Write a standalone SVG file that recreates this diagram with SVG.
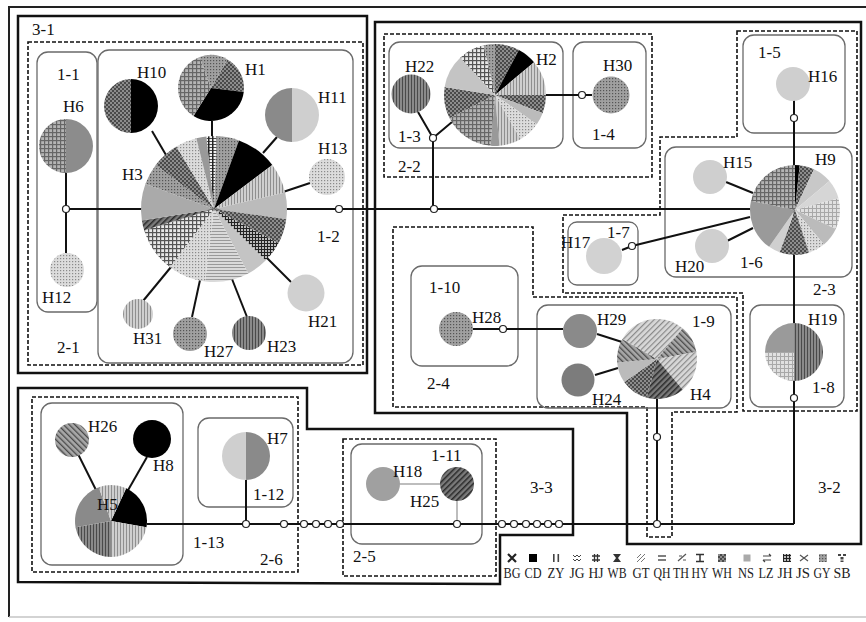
<svg xmlns="http://www.w3.org/2000/svg" width="866" height="622" viewBox="0 0 866 622">
<style>
.t{font-family:"Liberation Serif","Times New Roman",serif;font-size:17px;fill:#111}
.lg{font-family:"Liberation Serif","Times New Roman",serif;font-size:14px;fill:#222;text-anchor:middle}
.thick{fill:none;stroke:#111;stroke-width:2.5}
.dash{fill:none;stroke:#111;stroke-width:1.6;stroke-dasharray:4 2}
.rbox{fill:none;stroke:#6a6a6a;stroke-width:1.3}
.ln{fill:none;stroke:#111;stroke-width:2}
.lgl{fill:none;stroke:#bdbdbd;stroke-width:2}
.jn{fill:#fff;stroke:#222;stroke-width:1.2}
</style>
<defs>
<pattern id="pDots" width="3" height="3" patternUnits="userSpaceOnUse"><rect width="3" height="3" fill="#a0a0a0"/><rect width="1.2" height="1.2" fill="#555"/></pattern>
<pattern id="pLDots" width="3" height="3" patternUnits="userSpaceOnUse"><rect width="3" height="3" fill="#dcdcdc"/><rect width="1.2" height="1.2" fill="#8a8a8a"/></pattern>
<pattern id="pDark" width="4" height="4" patternUnits="userSpaceOnUse"><rect width="4" height="4" fill="#4a4a4a"/><rect width="2" height="2" fill="#8c8c8c"/><rect x="2" y="2" width="2" height="2" fill="#8c8c8c"/></pattern>
<pattern id="pGrid" width="4" height="4" patternUnits="userSpaceOnUse"><rect width="4" height="4" fill="#e8e8e8"/><rect width="1.2" height="4" fill="#555"/><rect width="4" height="1.2" fill="#555"/></pattern>
<pattern id="pGridM" width="4" height="4" patternUnits="userSpaceOnUse"><rect width="4" height="4" fill="#b4b4b4"/><rect width="1.2" height="4" fill="#666"/><rect width="4" height="1.2" fill="#666"/></pattern>
<pattern id="pGridD" width="3" height="3" patternUnits="userSpaceOnUse"><rect width="3" height="3" fill="#bbb"/><rect width="1" height="3" fill="#222"/><rect width="3" height="1" fill="#222"/></pattern>
<pattern id="pGridL" width="4" height="4" patternUnits="userSpaceOnUse"><rect width="4" height="4" fill="#e0e0e0"/><rect width="1" height="4" fill="#a8a8a8"/><rect width="4" height="1" fill="#a8a8a8"/></pattern>
<pattern id="pVL" width="3" height="3" patternUnits="userSpaceOnUse"><rect width="3" height="3" fill="#cfcfcf"/><rect width="1" height="3" fill="#8f8f8f"/></pattern>
<pattern id="pVLD" width="3" height="3" patternUnits="userSpaceOnUse"><rect width="3" height="3" fill="#8a8a8a"/><rect width="1" height="3" fill="#4a4a4a"/></pattern>
<pattern id="pHL" width="3" height="3" patternUnits="userSpaceOnUse"><rect width="3" height="3" fill="#dadada"/><rect width="3" height="1" fill="#999"/></pattern>
<pattern id="pLad" width="4" height="3" patternUnits="userSpaceOnUse"><rect width="4" height="3" fill="#f2f2f2"/><rect width="1.5" height="3" fill="#222"/><rect width="4" height="0.8" fill="#222"/></pattern>
<pattern id="pDgL" width="4" height="4" patternUnits="userSpaceOnUse" patternTransform="rotate(45)"><rect width="4" height="4" fill="#d8d8d8"/><rect width="1.2" height="4" fill="#8a8a8a"/></pattern>
<pattern id="pDgM" width="4" height="4" patternUnits="userSpaceOnUse" patternTransform="rotate(-45)"><rect width="4" height="4" fill="#a8a8a8"/><rect width="1.3" height="4" fill="#4a4a4a"/></pattern>
<pattern id="pDgD" width="4" height="4" patternUnits="userSpaceOnUse" patternTransform="rotate(45)"><rect width="4" height="4" fill="#7a7a7a"/><rect width="1.5" height="4" fill="#2a2a2a"/></pattern>
</defs>

<rect width="866" height="622" fill="#fff"/>
<g id="frame">
<path d="M866,7 H9 V617" fill="none" stroke="#222" stroke-width="2"/>
<path d="M9,617 H866" fill="none" stroke="#c4c4c4" stroke-width="1.5"/>
</g>

<g id="regions">
<rect class="thick" x="18" y="16" width="349" height="357"/>
<path class="thick" d="M375,22 H861 V544 H627 V413 H375 Z"/>
<path class="thick" d="M18,388 H307 V429 H573 V535 H500 V584 L18,582 Z"/>
<rect class="dash" x="28" y="42" width="335" height="323"/>
<rect class="dash" x="384" y="34" width="268" height="143"/>
<path class="dash" d="M737,31 H857 V411 H743 V293 H563 V215 H660 V137 H737 Z"/>
<path class="dash" d="M393,227 H533 V297 H737 V412 H672 V537 H647 V407 H393 Z"/>
<rect class="dash" x="32" y="397" width="266" height="175"/>
<rect class="dash" x="343" y="439" width="153" height="137"/>
<rect class="rbox" x="37" y="52" width="60" height="260" rx="11"/>
<rect class="rbox" x="98" y="50" width="255" height="313" rx="11"/>
<rect class="rbox" x="389" y="42" width="174" height="106" rx="11"/>
<rect class="rbox" x="573" y="42" width="73" height="106" rx="11"/>
<rect class="rbox" x="743" y="35" width="102" height="98" rx="11"/>
<rect class="rbox" x="665" y="147" width="187" height="130" rx="11"/>
<rect class="rbox" x="568" y="222" width="70" height="63" rx="9"/>
<rect class="rbox" x="411" y="266" width="107" height="100" rx="11"/>
<rect class="rbox" x="537" y="305" width="194" height="103" rx="11"/>
<rect class="rbox" x="750" y="305" width="94" height="102" rx="11"/>
<rect class="rbox" x="41" y="403" width="142" height="162" rx="11"/>
<rect class="rbox" x="198" y="418" width="95" height="89" rx="11"/>
<rect class="rbox" x="351" y="444" width="131" height="100" rx="11" stroke="#9a9a9a"/>
</g>

<g id="connectors">
<path class="ln" d="M66,173 V253"/>
<path class="ln" d="M66,209 H750"/>
<path class="ln" d="M152,131 L166,155"/>
<path class="ln" d="M212,121 V140"/>
<path class="ln" d="M277,137 L263,153"/>
<path class="ln" d="M310,183 L283,192"/>
<path class="ln" d="M143,301 L171,267"/>
<path class="ln" d="M192,317 L200,280"/>
<path class="ln" d="M247,317 L232,279"/>
<path class="ln" d="M291,282 L267,258"/>
<path class="ln" d="M418,112 L433,138 L452,122"/>
<path class="ln" d="M433,138 V209"/>
<path class="ln" d="M546,95 H592"/>
<path class="ln" d="M794,100 V524"/>
<path class="ln" d="M147,524 H794"/>
<path class="ln" d="M246,480 V524"/>
<path class="ln" d="M657,399 V524"/>
<path class="ln" d="M726,182 L753,193"/>
<path class="ln" d="M727,241 L753,228"/>
<path class="ln" d="M622,250 L632,246 L750,217"/>
<path class="ln" d="M473,329 H563"/>
<path class="ln" d="M597,334 L622,342"/>
<path class="ln" d="M595,375 L618,368"/>
<path class="ln" d="M78,454 L97,492"/>
<path class="ln" d="M147,457 L127,492"/>
<path class="lgl" d="M400,484 H440"/>
<path class="lgl" d="M457,500 V524"/>
</g>

<g id="H3">
<path fill="url(#pLad)" d="M214,209 L206.37,136.40 A73,73 0 0 1 216.55,136.04 Z"/>
<path fill="url(#pDots)" d="M214,209 L216.55,136.04 A73,73 0 0 1 238.97,140.40 Z"/>
<path fill="#000" d="M214,209 L238.97,140.40 A73,73 0 0 1 272.30,165.07 Z"/>
<path fill="url(#pVL)" d="M214,209 L272.30,165.07 A73,73 0 0 1 285.13,192.57 Z"/>
<path fill="#bbb" d="M214,209 L285.13,192.57 A73,73 0 0 1 286.29,219.16 Z"/>
<path fill="url(#pDark)" d="M214,209 L286.29,219.16 A73,73 0 0 1 278.45,243.27 Z"/>
<path fill="url(#pGridD)" d="M214,209 L278.45,243.27 A73,73 0 0 1 265.62,260.62 Z"/>
<path fill="#c4c4c4" d="M214,209 L265.62,260.62 A73,73 0 0 1 248.27,273.45 Z"/>
<path fill="url(#pHL)" d="M214,209 L248.27,273.45 A73,73 0 0 1 205.10,281.45 Z"/>
<path fill="url(#pLDots)" d="M214,209 L205.10,281.45 A73,73 0 0 1 170.07,267.30 Z"/>
<path fill="url(#pGrid)" d="M214,209 L170.07,267.30 A73,73 0 0 1 144.19,230.35 Z"/>
<path fill="url(#pDgD)" d="M214,209 L144.19,230.35 A73,73 0 0 1 141.90,220.42 Z"/>
<path fill="#aaa" d="M214,209 L141.90,220.42 A73,73 0 0 1 145.40,184.03 Z"/>
<path fill="url(#pDots)" d="M214,209 L145.40,184.03 A73,73 0 0 1 155.70,165.07 Z"/>
<path fill="url(#pDark)" d="M214,209 L155.70,165.07 A73,73 0 0 1 176.40,146.42 Z"/>
<path fill="url(#pLDots)" d="M214,209 L176.40,146.42 A73,73 0 0 1 196.34,138.17 Z"/>
<path fill="#999" d="M214,209 L196.34,138.17 A73,73 0 0 1 206.37,136.40 Z"/>
</g>
<g id="H1">
<path fill="url(#pDark)" d="M211,88 L227.5,59.42 A33,33 0 0 1 243.75,92.02 Z"/>
<path fill="#000" d="M211,88 L243.75,92.02 A33,33 0 0 1 193.51,115.98 Z"/>
<path fill="url(#pGridM)" d="M211,88 L193.51,115.98 A33,33 0 0 1 199.71,56.99 Z"/>
<path fill="url(#pDots)" d="M211,88 L199.71,56.99 A33,33 0 0 1 227.5,59.42 Z"/>
</g>
<g id="H10">
<path fill="#000" d="M131,79 A27,27 0 0 1 131,133 Z"/>
<path fill="url(#pDark)" d="M131,133 A27,27 0 0 1 131,79 Z"/>
</g>
<g id="H11">
<path fill="#cfcfcf" d="M292,88 A27,27 0 0 1 292,142 Z"/>
<path fill="#8a8a8a" d="M292,142 A27,27 0 0 1 292,88 Z"/>
</g>
<g id="H13"><circle cx="327" cy="177" r="18" fill="url(#pLDots)"/></g>
<g id="H6">
<path fill="#8c8c8c" d="M66,119 A27,27 0 0 1 66,173 Z"/>
<path fill="url(#pGridM)" d="M66,173 A27,27 0 0 1 66,119 Z"/>
</g>
<g id="H12"><circle cx="67" cy="270" r="17" fill="url(#pLDots)"/></g>
<g id="H31"><circle cx="138" cy="314" r="15" fill="url(#pVL)"/></g>
<g id="H27"><circle cx="190" cy="334" r="17" fill="url(#pDots)"/></g>
<g id="H23"><circle cx="249" cy="333" r="17" fill="url(#pVLD)"/></g>
<g id="H21"><circle cx="306" cy="293" r="18.5" fill="#d0d0d0"/></g>

<g id="H2">
<path fill="url(#pDots)" d="M495,95 L483.53,45.31 A51,51 0 0 1 495,44 Z"/>
<path fill="url(#pDark)" d="M495,95 L495,44 A51,51 0 0 1 518.94,49.97 Z"/>
<path fill="#000" d="M495,95 L518.94,49.97 A51,51 0 0 1 534.07,62.22 Z"/>
<path fill="url(#pVL)" d="M495,95 L534.07,62.22 A51,51 0 0 1 546,95 Z"/>
<path fill="url(#pDark)" d="M495,95 L546,95 A51,51 0 0 1 542.61,113.28 Z"/>
<path fill="#bbb" d="M495,95 L542.61,113.28 A51,51 0 0 1 536.78,124.25 Z"/>
<path fill="url(#pLDots)" d="M495,95 L536.78,124.25 A51,51 0 0 1 520.5,139.17 Z"/>
<path fill="url(#pVL)" d="M495,95 L520.5,139.17 A51,51 0 0 1 499.45,145.81 Z"/>
<path fill="#999" d="M495,95 L499.45,145.81 A51,51 0 0 1 490.55,145.81 Z"/>
<path fill="url(#pGridM)" d="M495,95 L490.55,145.81 A51,51 0 0 1 449.56,118.15 Z"/>
<path fill="url(#pDark)" d="M495,95 L449.56,118.15 A51,51 0 0 1 444.63,87.02 Z"/>
<path fill="#c4c4c4" d="M495,95 L444.63,87.02 A51,51 0 0 1 460.22,57.70 Z"/>
<path fill="url(#pGrid)" d="M495,95 L460.22,57.70 A51,51 0 0 1 483.53,45.31 Z"/>
</g>
<g id="H22"><circle cx="411" cy="94" r="19.5" fill="url(#pVLD)"/></g>
<g id="H30"><circle cx="611" cy="95" r="18.5" fill="url(#pDots)"/></g>
<g id="H16"><circle cx="793" cy="84" r="17" fill="#cfcfcf"/></g>

<g id="H9">
<path fill="#000" d="M795,210 L795,165 A45,45 0 0 1 799.70,165.25 Z"/>
<path fill="url(#pDark)" d="M795,210 L799.70,165.25 A45,45 0 0 1 814.02,169.22 Z"/>
<path fill="#c8c8c8" d="M795,210 L814.02,169.22 A45,45 0 0 1 829.47,181.07 Z"/>
<path fill="#d6d6d6" d="M795,210 L829.47,181.07 A45,45 0 0 1 838.47,198.35 Z"/>
<path fill="url(#pGridL)" d="M795,210 L838.47,198.35 A45,45 0 0 1 835.78,229.02 Z"/>
<path fill="#bbb" d="M795,210 L835.78,229.02 A45,45 0 0 1 823.93,244.47 Z"/>
<path fill="url(#pLDots)" d="M795,210 L823.93,244.47 A45,45 0 0 1 808.91,252.80 Z"/>
<path fill="url(#pDark)" d="M795,210 L808.91,252.80 A45,45 0 0 1 779.61,252.29 Z"/>
<path fill="#cfcfcf" d="M795,210 L779.61,252.29 A45,45 0 0 1 769.19,246.86 Z"/>
<path fill="#9a9a9a" d="M795,210 L769.19,246.86 A45,45 0 0 1 750.99,200.64 Z"/>
<path fill="url(#pGridM)" d="M795,210 L750.99,200.64 A45,45 0 0 1 795,165 Z"/>
</g>
<g id="H15"><circle cx="710" cy="177" r="17" fill="#cfcfcf"/></g>
<g id="H20"><circle cx="712" cy="246" r="17" fill="#cfcfcf"/></g>
<g id="H17"><circle cx="604" cy="256" r="18" fill="#d2d2d2"/></g>
<g id="H28"><circle cx="456" cy="329" r="17" fill="url(#pDots)"/></g>
<g id="H29"><circle cx="580" cy="331" r="17" fill="#8a8a8a"/></g>
<g id="H24"><circle cx="578" cy="380" r="16.5" fill="#7c7c7c"/></g>
<g id="H4">
<path fill="url(#pDgL)" d="M657,359 L657,319 A40,40 0 0 1 682.71,328.36 Z"/>
<path fill="url(#pDgM)" d="M657,359 L682.71,328.36 A40,40 0 0 1 696.39,352.06 Z"/>
<path fill="url(#pDgL)" d="M657,359 L696.39,352.06 A40,40 0 0 1 682.71,389.64 Z"/>
<path fill="url(#pDgD)" d="M657,359 L682.71,389.64 A40,40 0 0 1 646.65,397.64 Z"/>
<path fill="url(#pDark)" d="M657,359 L646.65,397.64 A40,40 0 0 1 624.23,381.94 Z"/>
<path fill="#bbb" d="M657,359 L624.23,381.94 A40,40 0 0 1 617.15,362.49 Z"/>
<path fill="url(#pDgM)" d="M657,359 L617.15,362.49 A40,40 0 0 1 622.36,339 Z"/>
<path fill="url(#pDgL)" d="M657,359 L622.36,339 A40,40 0 0 1 657,319 Z"/>
</g>
<g id="H19">
<path fill="url(#pVLD)" d="M794,323 A29,29 0 0 1 794,381 Z"/>
<path fill="#9a9a9a" d="M794,352 L765,352 A29,29 0 0 1 794,323 Z"/>
<path fill="url(#pGridL)" d="M794,352 L794,381 A29,29 0 0 1 765,352 Z"/>
</g>

<g id="H5">
<path fill="#000" d="M111,521 L126.21,488.37 A36,36 0 0 1 146.45,527.25 Z"/>
<path fill="url(#pVL)" d="M111,521 L146.45,527.25 A36,36 0 0 1 111,557 Z"/>
<path fill="url(#pVLD)" d="M111,521 L111,557 A36,36 0 0 1 75.55,527.25 Z"/>
<path fill="#8a8a8a" d="M111,521 L75.55,527.25 A36,36 0 0 1 98.69,487.17 Z"/>
<path fill="url(#pVL)" d="M111,521 L98.69,487.17 A36,36 0 0 1 126.21,488.37 Z"/>
</g>
<g id="H26"><circle cx="72" cy="440" r="17" fill="url(#pDgM)"/></g>
<g id="H8"><circle cx="152" cy="439" r="19" fill="#000"/></g>
<g id="H7">
<path fill="#8a8a8a" d="M246,432 A24,24 0 0 1 246,480 Z"/>
<path fill="#cfcfcf" d="M246,480 A24,24 0 0 1 246,432 Z"/>
</g>
<g id="H18"><circle cx="383" cy="484" r="17" fill="#a0a0a0"/></g>
<g id="H25"><circle cx="457" cy="484" r="17" fill="url(#pDgD)"/></g>

<g id="junctions">
<circle class="jn" cx="66" cy="209" r="3.5"/>
<circle class="jn" cx="339" cy="209" r="3.5"/>
<circle class="jn" cx="434" cy="209" r="3.5"/>
<circle class="jn" cx="433" cy="138" r="3.5"/>
<circle class="jn" cx="582" cy="95" r="3.5"/>
<circle class="jn" cx="794" cy="118" r="3.5"/>
<circle class="jn" cx="632" cy="246" r="3.5"/>
<circle class="jn" cx="503" cy="329" r="3.5"/>
<circle class="jn" cx="657" cy="437" r="3.5"/>
<circle class="jn" cx="794" cy="398" r="3.5"/>
<circle class="jn" cx="657" cy="524" r="3.5"/>
<circle class="jn" cx="246" cy="524" r="3.5"/>
<circle class="jn" cx="284" cy="524" r="3.5"/>
<circle class="jn" cx="304" cy="524" r="3.5"/>
<circle class="jn" cx="316" cy="524" r="3.5"/>
<circle class="jn" cx="328" cy="524" r="3.5"/>
<circle class="jn" cx="340" cy="524" r="3.5"/>
<circle class="jn" cx="457" cy="524" r="3.5"/>
<circle class="jn" cx="502" cy="524" r="3.5"/>
<circle class="jn" cx="514" cy="524" r="3.5"/>
<circle class="jn" cx="526" cy="524" r="3.5"/>
<circle class="jn" cx="537" cy="524" r="3.5"/>
<circle class="jn" cx="548" cy="524" r="3.5"/>
<circle class="jn" cx="559" cy="524" r="3.5"/>
</g>

<g id="labels">
<text class="t" x="32" y="35">3-1</text>
<text class="t" x="57" y="80">1-1</text>
<text class="t" x="63" y="112">H6</text>
<text class="t" x="137" y="78">H10</text>
<text class="t" x="245" y="75">H1</text>
<text class="t" x="318" y="103">H11</text>
<text class="t" x="318" y="154">H13</text>
<text class="t" x="122" y="180">H3</text>
<text class="t" x="317" y="242">1-2</text>
<text class="t" x="42" y="303">H12</text>
<text class="t" x="308" y="327">H21</text>
<text class="t" x="133" y="344">H31</text>
<text class="t" x="204" y="357">H27</text>
<text class="t" x="267" y="352">H23</text>
<text class="t" x="57" y="353">2-1</text>
<text class="t" x="405" y="72">H22</text>
<text class="t" x="536" y="65">H2</text>
<text class="t" x="603" y="71">H30</text>
<text class="t" x="398" y="142">1-3</text>
<text class="t" x="592" y="140">1-4</text>
<text class="t" x="398" y="172">2-2</text>
<text class="t" x="758" y="58">1-5</text>
<text class="t" x="808" y="82">H16</text>
<text class="t" x="723" y="168">H15</text>
<text class="t" x="815" y="165">H9</text>
<text class="t" x="675" y="272">H20</text>
<text class="t" x="740" y="268">1-6</text>
<text class="t" x="813" y="295">2-3</text>
<text class="t" x="561" y="248">H17</text>
<text class="t" x="607" y="238">1-7</text>
<text class="t" x="429" y="293">1-10</text>
<text class="t" x="472" y="323">H28</text>
<text class="t" x="427" y="389">2-4</text>
<text class="t" x="597" y="325">H29</text>
<text class="t" x="592" y="405">H24</text>
<text class="t" x="692" y="327">1-9</text>
<text class="t" x="690" y="400">H4</text>
<text class="t" x="808" y="325">H19</text>
<text class="t" x="812" y="393">1-8</text>
<text class="t" x="818" y="493">3-2</text>
<text class="t" x="88" y="432">H26</text>
<text class="t" x="153" y="471">H8</text>
<text class="t" x="97" y="510">H5</text>
<text class="t" x="193" y="548">1-13</text>
<text class="t" x="260" y="565">2-6</text>
<text class="t" x="267" y="444">H7</text>
<text class="t" x="253" y="500">1-12</text>
<text class="t" x="431" y="461">1-11</text>
<text class="t" x="393" y="477">H18</text>
<text class="t" x="410" y="507">H25</text>
<text class="t" x="353" y="562">2-5</text>
<text class="t" x="530" y="493">3-3</text>
</g>

<g id="legend">
<path d="M508,554 L516,562 M516,554 L508,562" stroke="#222" stroke-width="2.2" fill="none"/>
<rect x="529" y="554" width="8" height="8" fill="#000"/>
<rect x="553" y="554" width="1.6" height="8" fill="#444"/><rect x="557.5" y="554" width="1.6" height="8" fill="#444"/>
<path d="M573,555 l2,2 l2,-2 l2,2 l2,-2 M573,559 l2,2 l2,-2 l2,2 l2,-2" stroke="#444" stroke-width="1" fill="none"/>
<path d="M592,556 H600 M592,560 H600 M594.5,554 V562 M597.5,554 V562" stroke="#333" stroke-width="1.3" fill="none"/>
<polygon points="613,554 621,554 618,558 621,562 613,562 616,558" fill="#333"/>
<path d="M637,562 L645,554 M637,558 L641,554 M641,562 L645,558" stroke="#777" stroke-width="1" fill="none"/>
<path d="M658,556 H666 M658,560 H666" stroke="#555" stroke-width="1.5" fill="none"/>
<path d="M678,561 L686,554 M679,556 H682 M683,560 H686" stroke="#555" stroke-width="1.2" fill="none"/>
<path d="M696,554.5 H704 M700,554.5 V561.5 M696,561.5 H704" stroke="#333" stroke-width="1.5" fill="none"/>
<rect x="718" y="554" width="8" height="8" fill="url(#pDark)"/>
<rect x="743.5" y="554.5" width="7" height="7" fill="#aaa"/>
<path d="M763,556 H771 M763,560 H771 M769,554 L771,556 M763,560 L765,562" stroke="#444" stroke-width="1.2" fill="none"/>
<rect x="783" y="554" width="8" height="8" fill="url(#pGridD)"/>
<path d="M800,555 L804,558 L800,561 M808,555 L804,558 L808,561" stroke="#555" stroke-width="1.2" fill="none"/>
<rect x="819" y="554" width="8" height="8" fill="url(#pDots)"/>
<rect x="838" y="554" width="3" height="2" fill="#444"/><rect x="843" y="554" width="3" height="2" fill="#444"/><rect x="840.5" y="557" width="3" height="2.5" fill="#444"/><rect x="840.5" y="560.5" width="3" height="1.5" fill="#444"/>
<text class="lg" x="512" y="578" textLength="17" lengthAdjust="spacingAndGlyphs">BG</text>
<text class="lg" x="533" y="578" textLength="17" lengthAdjust="spacingAndGlyphs">CD</text>
<text class="lg" x="556" y="578" textLength="17" lengthAdjust="spacingAndGlyphs">ZY</text>
<text class="lg" x="577" y="578" textLength="15" lengthAdjust="spacingAndGlyphs">JG</text>
<text class="lg" x="596" y="578" textLength="15" lengthAdjust="spacingAndGlyphs">HJ</text>
<text class="lg" x="617" y="578" textLength="19" lengthAdjust="spacingAndGlyphs">WB</text>
<text class="lg" x="641" y="578" textLength="17" lengthAdjust="spacingAndGlyphs">GT</text>
<text class="lg" x="662" y="578" textLength="17" lengthAdjust="spacingAndGlyphs">QH</text>
<text class="lg" x="681" y="578" textLength="16" lengthAdjust="spacingAndGlyphs">TH</text>
<text class="lg" x="700" y="578" textLength="17" lengthAdjust="spacingAndGlyphs">HY</text>
<text class="lg" x="722" y="578" textLength="20" lengthAdjust="spacingAndGlyphs">WH</text>
<text class="lg" x="746" y="578" textLength="16" lengthAdjust="spacingAndGlyphs">NS</text>
<text class="lg" x="766" y="578" textLength="15" lengthAdjust="spacingAndGlyphs">LZ</text>
<text class="lg" x="785" y="578" textLength="15" lengthAdjust="spacingAndGlyphs">JH</text>
<text class="lg" x="803" y="578" textLength="14" lengthAdjust="spacingAndGlyphs">JS</text>
<text class="lg" x="822" y="578" textLength="17" lengthAdjust="spacingAndGlyphs">GY</text>
<text class="lg" x="842" y="578" textLength="17" lengthAdjust="spacingAndGlyphs">SB</text>
</g>
</svg>
